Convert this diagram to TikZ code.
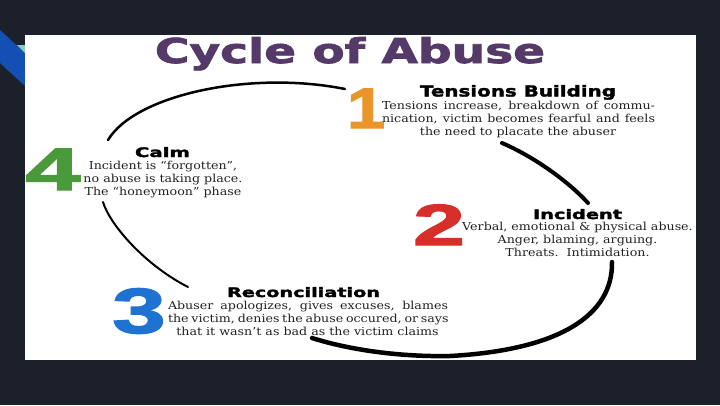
\documentclass[tikz,border=0pt]{standalone}
\usepackage{fontspec}
\usepackage{graphicx}
\setmainfont{DejaVu Serif}[FakeStretch=1.15]
\newfontfamily\hdfont{DejaVu Sans}[FakeBold=2]
\newfontfamily\numfont{Liberation Sans}[FakeBold=2]
\definecolor{bg}{HTML}{1C202B}
\definecolor{ttl}{HTML}{553A69}
\definecolor{one}{HTML}{E8962A}
\definecolor{two}{HTML}{D62F2A}
\definecolor{three}{HTML}{1E73D2}
\definecolor{four}{HTML}{4A9A3C}
\definecolor{stripe}{HTML}{1450B4}
\definecolor{tealc}{HTML}{8CC8BE}
\definecolor{txt}{HTML}{222222}
\tikzset{
  hd/.style={font=\hdfont\bfseries, anchor=base, inner sep=0pt, text=black},
  bd/.style={font=\fontsize{11}{13}\selectfont, anchor=base, inner sep=0pt, text=txt},
  num/.style={font=\numfont\bfseries, inner sep=0pt, anchor=base},
  arcline/.style={draw=black, line cap=round}
}
\begin{document}
\begin{tikzpicture}[x=1pt,y=-1pt]
\useasboundingbox (0,0) rectangle (720,405);
\fill[bg] (0,0) rectangle (720,405);
% decorative stripe
\fill[stripe] (0,30) -- (25,53) -- (25,86) -- (0,63) -- cycle;
\fill[tealc] (17,45) -- (25,45) -- (25,53) -- cycle;
% panel
\fill[white] (25,35) rectangle (696,360);
% title
\node[hd, text=ttl] (title) at (350,63) {\resizebox{390pt}{26pt}{Cycle of Abuse}};
% cycle arcs
\coordinate (a1s) at (108,140); \coordinate (a1e) at (345,89);
\coordinate (a2s) at (502,143); \coordinate (a2e) at (588,203);
\coordinate (a3s) at (612,262); \coordinate (a3m) at (450,356); \coordinate (a3e) at (312,338);
\coordinate (a4s) at (103,202); \coordinate (a4e) at (188,287);
\draw[arcline, line width=2.5pt] (a1s) .. controls (135,95) and (250,70) .. (a1e);
\draw[arcline, line width=4pt] (a2s) .. controls (530,155) and (565,178) .. (a2e);
\draw[arcline, line width=4.5pt] (a3s) .. controls (613,315) and (560,350) .. (a3m) .. controls (400,357) and (350,350) .. (a3e);
\draw[arcline, line width=2pt] (a4s) .. controls (110,225) and (145,265) .. (a4e);
% numbers
\node[num, text=one] (n1) at (366,128) {\scalebox{1.2}[1]{\fontsize{57}{57}\selectfont 1}};
\node[num, text=two] (n2) at (439,245) {\scalebox{1.6}[1]{\fontsize{58}{58}\selectfont 2}};
\node[num, text=three] (n3) at (139,333) {\scalebox{1.5}[1]{\fontsize{64}{64}\selectfont 3}};
\node[num, text=four] (n4) at (53,190) {\scalebox{1.65}[1]{\fontsize{60}{60}\selectfont 4}};
% 1 Tensions Building
\node[hd] (h1) at (518,96.5) {\resizebox{196pt}{11.5pt}{Tensions Building}};
\node[bd] (t1a) at (518.5,109.5) {\makebox[273pt][s]{Tensions increase, breakdown of commu-}};
\node[bd] (t1b) at (518.5,122.5) {\makebox[273pt][s]{nication, victim becomes fearful and feels}};
\node[bd] (t1c) at (518,135.5) {the need to placate the abuser};
% 4 Calm
\node[hd] (h4) at (162.5,157) {\resizebox{55pt}{10pt}{Calm}};
\node[bd] (t4a) at (163,169) {Incident is ``forgotten'',};
\node[bd] (t4b) at (163,182) {no abuse is taking place.};
\node[bd] (t4c) at (163,195) {The ``honeymoon'' phase};
% 2 Incident
\node[hd] (h2) at (577.5,219) {\resizebox{89pt}{10pt}{Incident}};
\node[bd] (t2a) at (577.5,230) {Verbal, emotional \& physical abuse.};
\node[bd] (t2b) at (577.5,243) {Anger, blaming, arguing.};
\node[bd] (t2c) at (577.5,256) {Threats.\ \ Intimidation.};
% 3 Reconciliation
\node[hd] (h3) at (303.5,297) {\resizebox{153pt}{10pt}{Reconciliation}};
\node[bd] (t3a) at (308,309) {\makebox[280pt][s]{Abuser apologizes, gives excuses, blames}};
\node[bd] (t3b) at (308,322) {\makebox[280pt][s]{the victim, denies the abuse occured, or says}};
\node[bd] (t3c) at (307.5,335) {that it wasn't as bad as the victim claims};
\end{tikzpicture}
\end{document}
